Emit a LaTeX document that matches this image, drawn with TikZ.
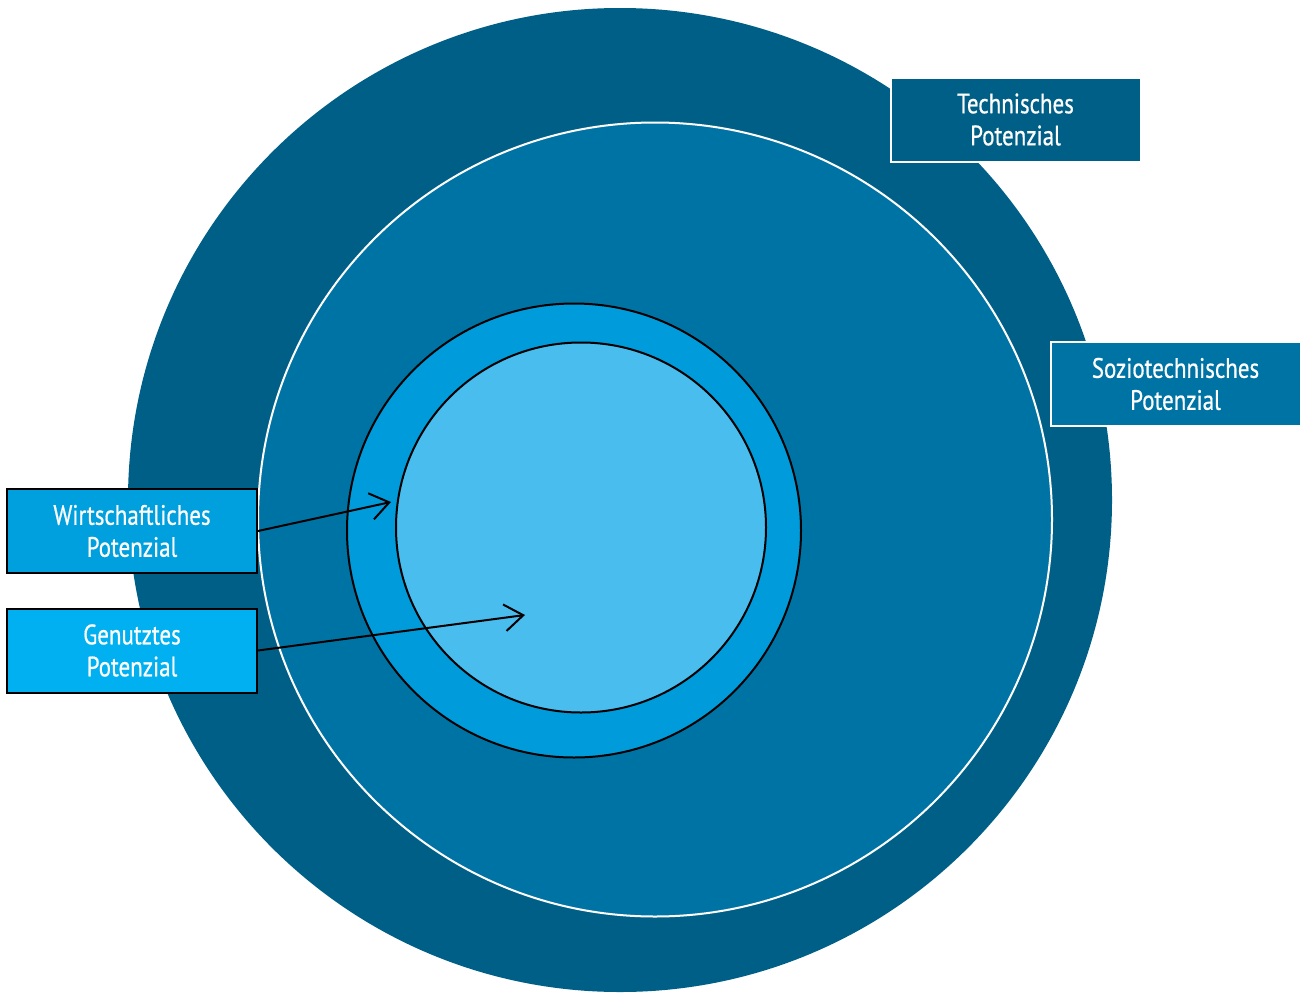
\documentclass[tikz,border=0pt]{standalone}
\usepackage{fontspec}
\setmainfont[FakeStretch=0.82,FakeBold=0.6]{PT Sans}
\usetikzlibrary{arrows.meta}
\definecolor{cOuter}{HTML}{005F87}
\definecolor{cSecond}{HTML}{0073A5}
\definecolor{cRing}{HTML}{009BDA}
\definecolor{cInner}{HTML}{48BDEE}
\definecolor{cWirt}{HTML}{00A0DF}
\definecolor{cGen}{HTML}{00B0F0}
\tikzset{
  lbl/.style={minimum width=250*0.75pt, minimum height=84*0.75pt, inner sep=0pt,
    align=center, text=white, font=\fontsize{21}{24}\selectfont, line width=1.5pt},
  lblw/.style={lbl, draw=white},
  lblk/.style={lbl, draw=black},
  arr/.style={-{Straight Barb[length=14pt,width=20pt,line width=1.5pt]}, line width=1.5pt, black},
}
\begin{document}
\begin{tikzpicture}[x=0.75pt,y=-0.75pt]
\useasboundingbox (0,0) rectangle (1302,992);
\clip (0,0) rectangle (1302,992);
\fill[white] (0,0) rectangle (1302,992);
\fill[cOuter] (620,500) circle (492);
\filldraw[fill=cSecond, draw=white, line width=1.5pt] (655,519.5) circle (397);
\filldraw[fill=cRing, draw=black, line width=1.5pt] (574,530.5) circle (227);
\filldraw[fill=cInner, draw=black, line width=1.5pt] (581,527.5) circle (185);
\node[lblw, fill=cOuter] (tech) at (1015.5,119.5) {Technisches\\Potenzial};
\node[lblw, fill=cSecond] (sozio) at (1175.5,384) {Soziotechnisches\\Potenzial};
\node[lblk, fill=cWirt] (wirt) at (132,531) {Wirtschaftliches\\Potenzial};
\node[lblk, fill=cGen] (gen) at (132,650.5) {Genutztes\\Potenzial};
\coordinate (wend) at (391,502);
\coordinate (gend) at (525,615);
\draw[arr] (wirt.east) -- (wend);
\draw[arr] (gen.east) -- (gend);
\end{tikzpicture}
\end{document}
